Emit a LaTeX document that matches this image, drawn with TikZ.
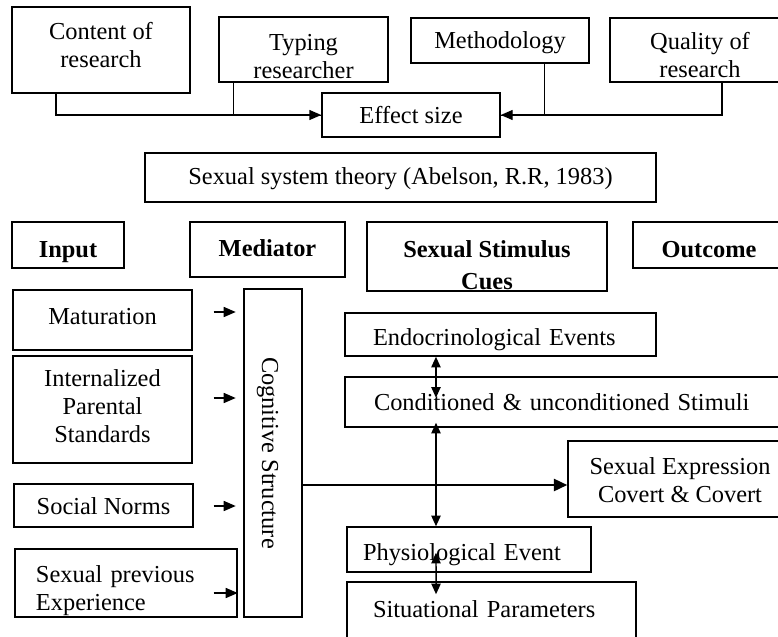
\documentclass[tikz,border=0pt]{standalone}
\usepackage{fontspec}
\setmainfont{Liberation Serif}
\usetikzlibrary{arrows.meta}

\tikzset{
    box/.style={draw, line width=1.1pt, align=center, inner sep=0pt, font=\fontsize{18.3}{21}\selectfont},
    head/.style={box, font=\fontsize{18.3}{21}\selectfont\bfseries},
    baselow/.style={text height=2*#1, text depth=0pt},
    basehigh/.style={text height=0pt, text depth=2*#1},
    padleft/.style 2 args={align=left, inner xsep=#1, text width=#2},
    arr/.style={-{Triangle[length=9pt,width=7.5pt]}, line width=1.1pt},
    dbl/.style={{Triangle[length=8pt,width=7pt]}-{Triangle[length=8pt,width=7pt]}, line width=1.1pt}
}

\begin{document}
\begin{tikzpicture}[x=0.75pt, y=-0.75pt]
	\useasboundingbox (0,0) rectangle (778,636);

	% meta-analysis part
	\node[box, minimum width=133.5pt, minimum height=64.5pt, baselow=12.75pt] (cont) at (101,50) {Content of\\research};
	\node[box, minimum width=126.75pt, minimum height=48.75pt, baselow=21.4pt] (typ) at (303.5,49.5) {Typing\\researcher};
	\node[box, minimum width=133.5pt, minimum height=33.75pt, baselow=6pt] (meth) at (500,40.5) {Methodology};
	\node[box, minimum width=135pt, minimum height=48pt, baselow=20.25pt] (qual) at (700,50) {Quality of\\research};
	\node[box, minimum width=133.5pt, minimum height=33pt, baselow=6pt] (eff) at (411,115) {Effect size};
	\draw[arr] ([xshift=-33.75pt]cont.south) |- (eff.west);
	\draw ([xshift=-52.9pt]typ.south) |- (eff.west);
	\draw ([xshift=33pt]meth.south) |- (eff.east);
	\draw[arr] ([xshift=16.5pt]qual.south) |- (eff.east);

	\node[box, minimum width=383.25pt, minimum height=36.75pt, baselow=5.6pt] (theory) at (400.5,177.5) {Sexual system theory (Abelson, R.R, 1983)};

	% column heads
	\node[head, minimum width=84pt, minimum height=34.5pt, baselow=9pt] (input) at (68,245) {Input};
	\node[head, minimum width=116.25pt, minimum height=41.25pt, baselow=5.6pt] (med) at (267.5,249.5) {Mediator};
	\node[head, minimum width=180pt, minimum height=51.75pt, baselow=24.4pt] (cues) at (487,256.5) {Sexual Stimulus\\[3pt]Cues};
	\node[head, minimum width=114pt, minimum height=34.5pt, baselow=9pt] (out) at (709,245) {Outcome};

	% input
	\node[box, minimum width=134.25pt, minimum height=45pt, baselow=3pt] (mat) at (102.5,320) {Maturation};
	\node[box, minimum width=134.25pt, minimum height=80.25pt, baselow=25.1pt] (par) at (102.5,409.5) {Internalized\\Parental\\Standards};
	\node[box, minimum width=134.25pt, minimum height=32.25pt, baselow=7.1pt] (norm) at (103.5,505.5) {Social Norms};
	\node[box, padleft={15.75pt}{135pt}, minimum height=51pt, basehigh=0.75pt] (prev) at (126,583) {Sexual previous\\Experience};

	% mediator
	\node[box, rotate=-90, minimum width=246pt, minimum height=43.5pt, baselow=8.25pt] (cog) at (273,453) {Cognitive Structure};
	\draw[arr] (mat.east) ++(21,-8) -- ++(22,0);
	\draw[arr] (par.east) ++(21,-11.5) -- ++(22,0);
	\draw[arr] (norm.east) ++(20,0.5) -- ++(22,0);
	\draw[arr] (prev.east) ++(-24,10) -- ++(24,0);

	% stimulus cues
	\node[box, padleft={21pt}{191.25pt}, minimum height=32.25pt, baselow=7.9pt] (endo) at (500.5,334.5) {Endocrinological Events};
	\node[box, padleft={21.75pt}{301.5pt}, minimum height=37.5pt, baselow=6pt] (cond) at (575,402) {Conditioned \& unconditioned Stimuli};
	\node[box, padleft={12pt}{159pt}, minimum height=33.75pt, baselow=7.9pt] (phys) at (469,549.5) {Physiological Event};
	\node[box, padleft={19.5pt}{177.75pt}, minimum height=60pt, basehigh=3.75pt] (sit) at (491.5,622) {Situational Parameters};
	\draw[dbl] ([xshift=-48.4pt]endo.south) -- ++(0,41);
	\draw[dbl] ([xshift=-104.25pt,yshift=3.75pt]cond.south) -- ([xshift=-24.75pt]phys.north);
	\draw[dbl] ([xshift=-24.75pt,yshift=15pt]phys.south) -- ([xshift=-41.6pt,yshift=-9.75pt]sit.north);

	% outcome
	\node[box, minimum width=168pt, minimum height=57pt, baselow=17.25pt] (sex) at (680,479) {Sexual Expression\\Covert \& Covert};
	\coordinate (cogout) at ([yshift=-24pt]cog.north);
	\draw[-{Triangle[length=10pt,width=9pt]}, line width=1.8pt] (cogout) -- (cogout -| sex.west);
\end{tikzpicture}
\end{document}
